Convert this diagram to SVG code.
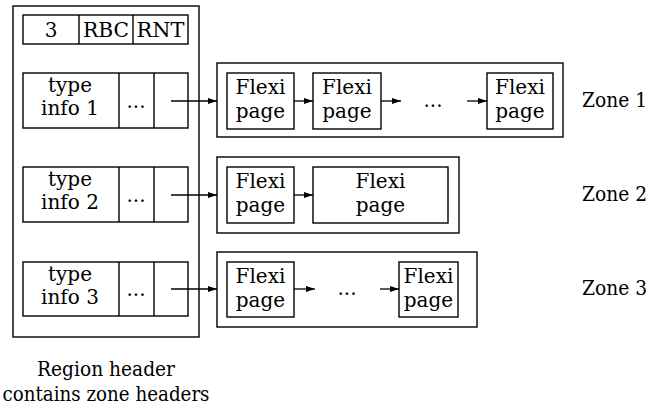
<svg xmlns="http://www.w3.org/2000/svg" width="665" height="410" viewBox="0 0 665 410">
<defs>
<marker id="ah" markerUnits="userSpaceOnUse" markerWidth="9" markerHeight="6" refX="9" refY="3" orient="auto">
<path d="M0,0 L9,3 L0,6 z" fill="#000"/>
</marker>
<style>
.b{fill:#fff;stroke:#000;stroke-width:1.4}
text{font-family:'DejaVu Serif','Liberation Serif',serif;fill:#000}
.t{font-size:20px;text-anchor:middle}
.z{font-size:20px}
.c{font-size:20px;text-anchor:middle}
.a{stroke:#000;stroke-width:1.3;fill:none;marker-end:url(#ah)}
</style>
</defs>
<rect width="665" height="410" fill="#fff"/>
<g id="region">
<rect class="b" x="13" y="6" width="186" height="331"/>
</g>
<g id="header">
<rect class="b" x="23" y="15" width="165" height="29"/>
<line x1="79" y1="15" x2="79" y2="44" stroke="#000" stroke-width="1.4"/>
<line x1="133" y1="15" x2="133" y2="44" stroke="#000" stroke-width="1.4"/>
<text class="t" x="51" y="37">3</text>
<text class="t" x="106" y="37" textLength="46" lengthAdjust="spacingAndGlyphs">RBC</text>
<text class="t" x="160.5" y="37" textLength="48" lengthAdjust="spacingAndGlyphs">RNT</text>
</g>
<g id="row1">
<rect class="b" x="23" y="73" width="165" height="55"/>
<line x1="119" y1="73" x2="119" y2="128" stroke="#000" stroke-width="1.4"/>
<line x1="154" y1="73" x2="154" y2="128" stroke="#000" stroke-width="1.4"/>
<text class="t" x="70" y="92">type</text>
<text class="t" x="70" y="115">info 1</text>
<text class="t" x="136" y="108">...</text>
</g>
<g id="row2">
<rect class="b" x="23" y="167" width="165" height="55"/>
<line x1="119" y1="167" x2="119" y2="222" stroke="#000" stroke-width="1.4"/>
<line x1="154" y1="167" x2="154" y2="222" stroke="#000" stroke-width="1.4"/>
<text class="t" x="70" y="186">type</text>
<text class="t" x="70" y="209">info 2</text>
<text class="t" x="136" y="202">...</text>
</g>
<g id="row3">
<rect class="b" x="23" y="262" width="165" height="54"/>
<line x1="119" y1="262" x2="119" y2="316" stroke="#000" stroke-width="1.4"/>
<line x1="154" y1="262" x2="154" y2="316" stroke="#000" stroke-width="1.4"/>
<text class="t" x="70" y="281">type</text>
<text class="t" x="70" y="304">info 3</text>
<text class="t" x="136" y="296">...</text>
</g>
<g id="zone1">
<rect class="b" x="217" y="63" width="346" height="74"/>
<rect class="b" x="227" y="73" width="67" height="56"/>
<text class="t" x="260.5" y="94">Flexi</text>
<text class="t" x="260.5" y="118">page</text>
<rect class="b" x="313" y="73" width="68" height="56"/>
<text class="t" x="347" y="94">Flexi</text>
<text class="t" x="347" y="118">page</text>
<text class="t" x="433" y="107">...</text>
<rect class="b" x="487" y="73" width="66" height="56"/>
<text class="t" x="520" y="94">Flexi</text>
<text class="t" x="520" y="118">page</text>
<text class="z" x="582" y="107" textLength="65" lengthAdjust="spacingAndGlyphs">Zone 1</text>
</g>
<g id="zone2">
<rect class="b" x="217" y="157" width="242" height="76"/>
<rect class="b" x="227" y="167" width="67" height="56"/>
<text class="t" x="260.5" y="188">Flexi</text>
<text class="t" x="260.5" y="212">page</text>
<rect class="b" x="313" y="167" width="135" height="56"/>
<text class="t" x="380.5" y="188">Flexi</text>
<text class="t" x="380.5" y="212">page</text>
<text class="z" x="582" y="201" textLength="65" lengthAdjust="spacingAndGlyphs">Zone 2</text>
</g>
<g id="zone3">
<rect class="b" x="217" y="252" width="260" height="75"/>
<rect class="b" x="227" y="262" width="67" height="55"/>
<text class="t" x="260.5" y="283">Flexi</text>
<text class="t" x="260.5" y="307">page</text>
<text class="t" x="347" y="295">...</text>
<rect class="b" x="399" y="262" width="59" height="55"/>
<text class="t" x="428.5" y="283">Flexi</text>
<text class="t" x="428.5" y="307">page</text>
<text class="z" x="582" y="295" textLength="65" lengthAdjust="spacingAndGlyphs">Zone 3</text>
</g>
<g id="connectors">
<line class="a" x1="171" y1="101" x2="217" y2="101"/>
<line class="a" x1="171" y1="195" x2="217" y2="195"/>
<line class="a" x1="171" y1="289" x2="217" y2="289"/>
<line class="a" x1="294" y1="101" x2="313" y2="101"/>
<line class="a" x1="381" y1="101" x2="401" y2="101"/>
<line class="a" x1="467" y1="101" x2="487" y2="101"/>
<line class="a" x1="294" y1="195" x2="313" y2="195"/>
<line class="a" x1="294" y1="289" x2="315" y2="289"/>
<line class="a" x1="380" y1="289" x2="399" y2="289"/>
</g>
<g id="caption">
<text class="c" x="106" y="376" textLength="138" lengthAdjust="spacingAndGlyphs">Region header</text>
<text class="c" x="106" y="401" textLength="207" lengthAdjust="spacingAndGlyphs">contains zone headers</text>
</g>
</svg>
